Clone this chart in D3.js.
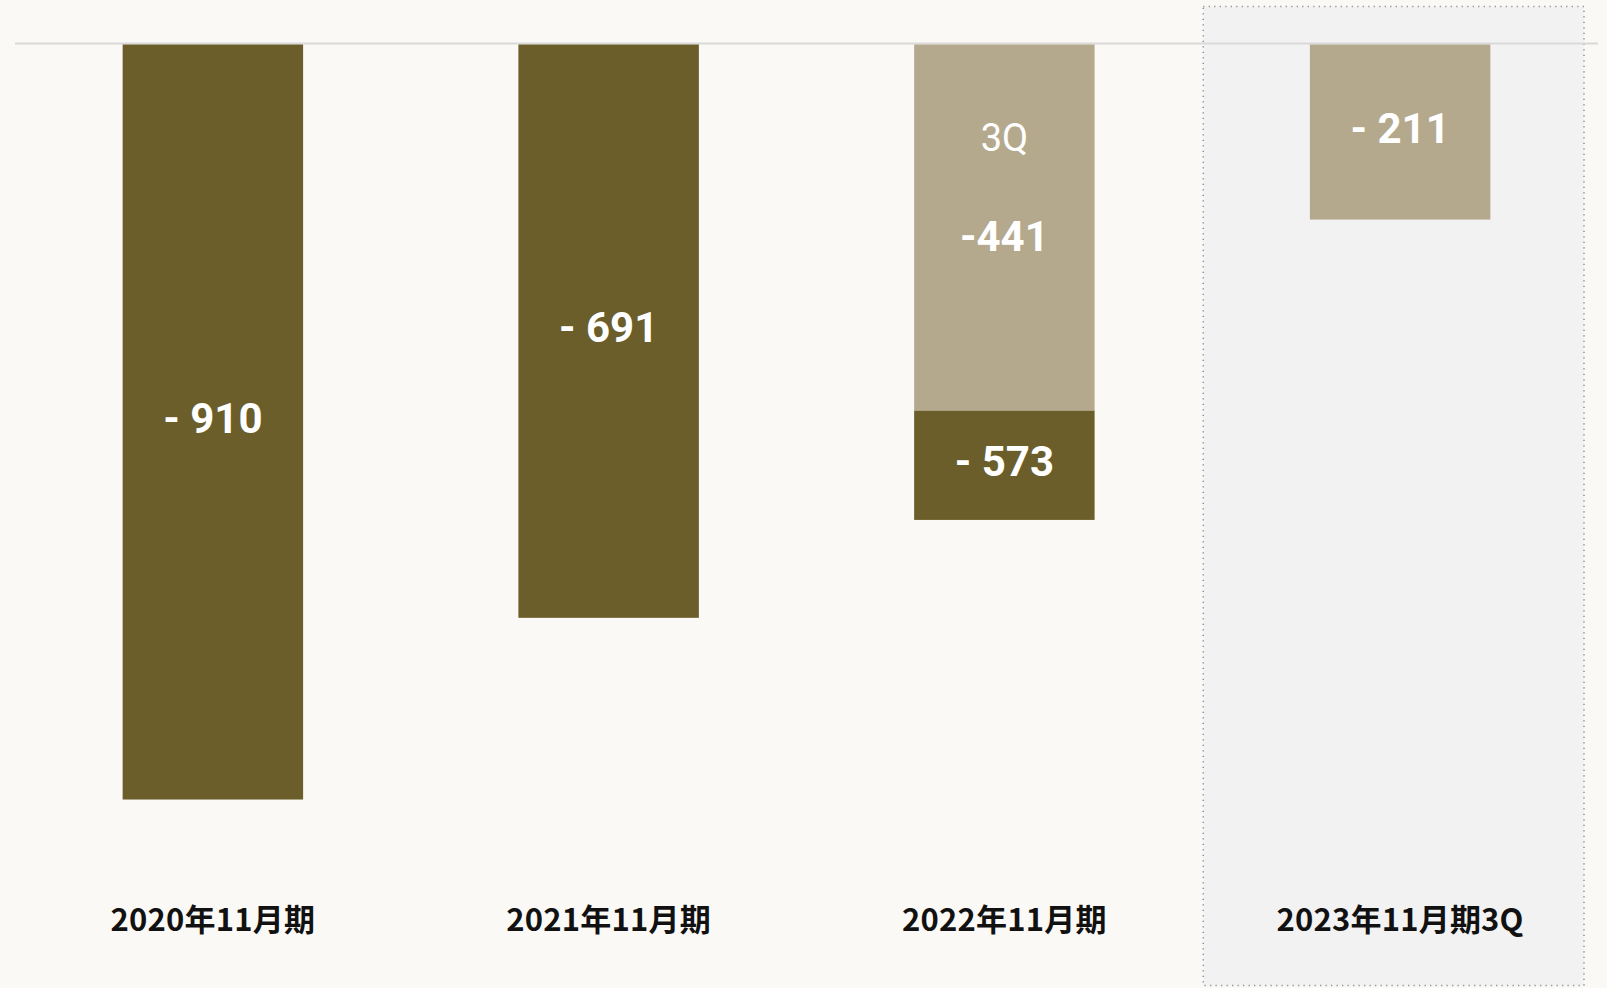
<!DOCTYPE html>
<html>
<head>
<meta charset="utf-8">
<script src="https://cdn.jsdelivr.net/npm/d3@7"></script>
<style>
  html, body { margin: 0; padding: 0; background: #faf9f5; }
  svg { display: block; }
</style>
</head>
<body>
<svg id="chart" width="1607" height="988"></svg>
<script>
// Fiscal periods shown along the bottom
const categories = ["2020年11月期", "2021年11月期", "2022年11月期", "2023年11月期3Q"];
// Full-year results (dark bars)
const fullYearValues = [-910, -691, -573, null];
const fullYearLabels = ["- 910", "- 691", "- 573", null];
// Third-quarter cumulative results (light bars)
const q3Values = [null, null, -441, -211];
const q3Labels = [null, null, "-441", "- 211"];
// Small tag above the 3Q value inside a year that also has a full-year bar
const q3Tags = [null, null, "3Q", null];

const svg = d3.select("#chart");

const x = d3.scaleBand()
  .domain(categories)
  .range([15, 1598])
  .paddingInner(0.544)
  .paddingOuter(0.272);

const y = d3.scaleLinear()
  .domain([0, -1000])
  .range([44.5, 874.2]);

const step = x.step();
const bw = x.bandwidth();
const cellStart = c => x(c) - (step - bw) / 2;

// Highlighted current period panel
const cur = categories[categories.length - 1];
svg.append("rect")
  .attr("x", cellStart(cur) + 1)
  .attr("y", 6.5)
  .attr("width", step - 15)
  .attr("height", 979)
  .attr("fill", "#f2f2f2")
  .attr("stroke", "#8f8f8f")
  .attr("stroke-width", 1.5)
  .attr("stroke-dasharray", "1.2 4.3");

// Zero line
svg.append("line")
  .attr("x1", 15).attr("x2", 1598)
  .attr("y1", y(0) - 1).attr("y2", y(0) - 1)
  .attr("stroke", "#d9d9d9")
  .attr("stroke-width", 2);

const DARK = "#6b5e2a", LIGHT = "#b5a98d";

const rows = categories.map((c, i) => ({
  c, full: fullYearValues[i], fullLabel: fullYearLabels[i],
  q3: q3Values[i], q3Label: q3Labels[i], tag: q3Tags[i]
}));

// Full-year bars; where a 3Q bar exists, only the part beyond it is dark
svg.append("g").selectAll("rect")
  .data(rows.filter(d => d.full != null))
  .join("rect")
  .attr("x", d => x(d.c))
  .attr("width", bw)
  .attr("y", d => d.q3 != null ? y(d.q3) : y(0))
  .attr("height", d => y(d.full) - (d.q3 != null ? y(d.q3) : y(0)))
  .attr("fill", DARK);

// 3Q bars
svg.append("g").selectAll("rect")
  .data(rows.filter(d => d.q3 != null))
  .join("rect")
  .attr("x", d => x(d.c))
  .attr("width", bw)
  .attr("y", y(0))
  .attr("height", d => y(d.q3) - y(0))
  .attr("fill", LIGHT);

const numFont = "Roboto, 'Liberation Sans', sans-serif";
const numSize = 42;

// Full-year value labels, centred on the visible dark part of each bar
svg.append("g").selectAll("text")
  .data(rows.filter(d => d.full != null))
  .join("text")
  .attr("x", d => x(d.c) + bw / 2)
  .attr("y", d => {
    const top = d.q3 != null ? y(d.q3) : y(0);
    return (top + y(d.full)) / 2 - 4 + numSize * 0.36;
  })
  .attr("text-anchor", "middle")
  .attr("font-family", numFont)
  .attr("font-weight", 700)
  .attr("font-size", numSize)
  .attr("fill", "#ffffff")
  .text(d => d.fullLabel);

// 3Q value labels
svg.append("g").selectAll("text")
  .data(rows.filter(d => d.q3 != null))
  .join("text")
  .attr("x", d => x(d.c) + bw / 2)
  .attr("y", d => {
    const mid = (y(0) + y(d.q3)) / 2;
    return (d.tag ? mid + 8 : mid - 4) + numSize * 0.36;
  })
  .attr("text-anchor", "middle")
  .attr("font-family", numFont)
  .attr("font-weight", 700)
  .attr("font-size", numSize)
  .attr("fill", "#ffffff")
  .text(d => d.q3Label);

// "3Q" tag above the quarter value
svg.append("g").selectAll("text")
  .data(rows.filter(d => d.tag))
  .join("text")
  .attr("x", d => x(d.c) + bw / 2)
  .attr("y", d => (y(0) + y(d.q3)) / 2 + 8 - 98 + 38 * 0.36)
  .attr("text-anchor", "middle")
  .attr("font-family", numFont)
  .attr("font-weight", 400)
  .attr("font-size", 38)
  .attr("fill", "#ffffff")
  .text(d => d.tag);

// Period labels along the bottom
svg.append("g").selectAll("text")
  .data(categories)
  .join("text")
  .attr("x", c => x(c) + bw / 2)
  .attr("y", 931)
  .attr("text-anchor", "middle")
  .attr("font-family", "'Noto Sans CJK JP', sans-serif")
  .attr("font-weight", 700)
  .attr("font-size", 31)
  .attr("letter-spacing", 0.2)
  .attr("fill", "#111111")
  .text(c => c);
</script>
</body>
</html>
